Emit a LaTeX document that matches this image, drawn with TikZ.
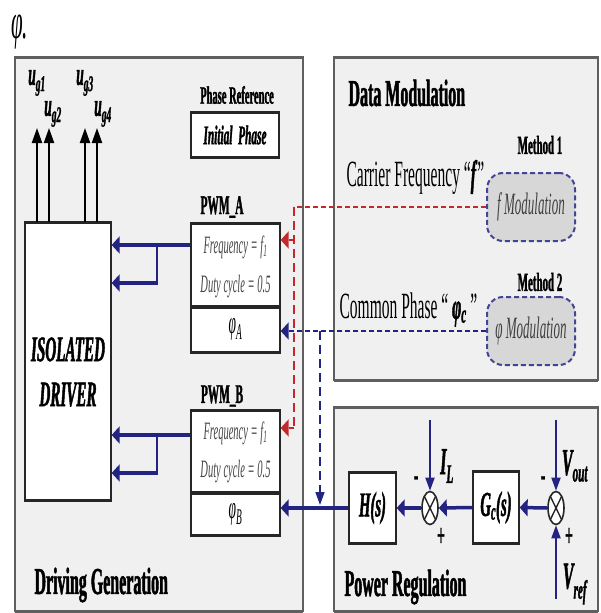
\documentclass[tikz,border=0pt]{standalone}
\usepackage{fontspec}
\setmainfont{Liberation Serif}[FakeStretch=0.42, BoldFeatures={FakeBold=1.2}, BoldItalicFeatures={FakeBold=1.2}]
\usetikzlibrary{arrows.meta,shapes.geometric}
\definecolor{panelfill}{RGB}{240,240,240}
\definecolor{panelline}{RGB}{95,95,95}
\definecolor{navy}{RGB}{35,35,130}
\definecolor{dred}{RGB}{195,40,45}
\definecolor{modfill}{RGB}{215,215,215}
\definecolor{greytext}{RGB}{70,70,70}
\newcommand\fsz[1]{\fontsize{#1}{#1}\selectfont}
\tikzset{
 panel/.style={draw=panelline, line width=1.5pt, fill=panelfill},
 pedge/.style={draw=panelline, line width=3pt},
 box/.style={draw=black!85, line width=1.3pt, fill=white, inner sep=0pt},
 edgeline/.style={draw=black!85, line width=3.2pt},
 hb/.style={draw=navy, line width=3.5pt, -{Triangle[length=8pt,width=17pt]}},
 vbl/.style={draw=navy, line width=1.8pt},
 vb/.style={draw=navy, line width=1.8pt, -{Triangle[length=13pt,width=9pt]}},
 vk/.style={draw=black, line width=2pt, -{Triangle[length=15pt,width=10pt]}},
 rdh/.style={draw=dred, line width=2.8pt, dash pattern=on 5pt off 3pt},
 rdv/.style={draw=dred, line width=1.5pt, dash pattern=on 9pt off 5pt},
 ndh/.style={draw=navy, line width=2.8pt, dash pattern=on 5pt off 3pt},
 ndv/.style={draw=navy, line width=1.5pt, dash pattern=on 9pt off 5pt},
 hhead/.style={-{Triangle[length=8pt,width=17pt]}},
 vhead/.style={-{Triangle[length=13pt,width=9pt]}},
 modbox/.style={draw=navy!85, line width=2pt, dash pattern=on 5pt off 3pt, fill=modfill, rounded corners=16pt, minimum width=88pt, minimum height=68pt, inner sep=0pt, text=black!75, font=\itshape\fsz{31}},
 junc/.style={ellipse, draw=black!85, line width=1.6pt, fill=white, minimum width=16pt, minimum height=33pt, inner sep=0pt},
 title/.style={anchor=west, font=\bfseries\fsz{38}},
 ptext/.style={font=\itshape\fsz{25}, text=greytext},
 bi/.style={font=\bfseries\itshape\fsz{32}, inner sep=0pt},
 sign/.style={font=\bfseries\fsz{32}},
}
\begin{document}
\begin{tikzpicture}[x=1pt,y=-1pt]
\useasboundingbox (0,0) rectangle (601,613);
\fill[white] (0,0) rectangle (601,613);

% panels
\draw[panel] (15,57) rectangle (303,611);
\draw[panel] (334,57) rectangle (598,380);
\draw[panel] (334,407) rectangle (598,611);
\foreach \a/\b/\y in {15/303/57,15/303/611,334/598/57,334/598/380,334/598/407,334/598/611}
  \draw[pedge] (\a,\y) -- (\b,\y);

\node[anchor=west, inner sep=0pt, font=\itshape\fsz{50}] (phitop) at (11,32) {φ.};

% titles
\node[title] (tDM) at (345,93) {Data Modulation};
\node[title] (tPR) at (341,587) {Power Regulation};
\node[title] (tDG) at (31,585) {Driving Generation};

% isolated driver
\node[box, minimum width=86pt, minimum height=277pt] (drv) at (68,361.5) {};
\draw[edgeline] (drv.north west) -- (drv.north east) (drv.south west) -- (drv.south east);
\node[align=center, font=\bfseries\itshape\fontsize{36}{45}\selectfont] (drvtxt) at (68,372) {ISOLATED\\DRIVER};

% gate outputs
\coordinate (g1) at (37,128);
\coordinate (g2) at (49,128);
\coordinate (g3) at (85,128);
\coordinate (g4) at (97,128);
\foreach \g in {g1,g2,g3,g4} \draw[vk] (drv.north -| \g) -- (\g);
\node[bi] (lg1) at (37,83) {u\textsubscript{g1}};
\node[bi] (lg2) at (53,114) {u\textsubscript{g2}};
\node[bi] (lg3) at (85,83) {u\textsubscript{g3}};
\node[bi] (lg4) at (103,114) {u\textsubscript{g4}};

% phase reference
\node[font=\bfseries\fsz{25}] (phref) at (237,95) {Phase Reference};
\node[box, minimum width=88pt, minimum height=44pt, font=\bfseries\itshape\fsz{27}] (init) at (235,135) {Initial\ \ Phase};
\draw[edgeline] (init.north west) -- (init.north east) (init.south west) -- (init.south east);

% PWM A
\node[font=\bfseries\fsz{27}] (lblA) at (222,207) {PWM\_A};
\node[box, minimum width=89pt, minimum height=128pt] (pwmA) at (235.5,288) {};
\draw[edgeline] (pwmA.north west) -- (pwmA.north east) (pwmA.south west) -- (pwmA.south east);
\draw[edgeline] (pwmA.west |- 0,307) -- (pwmA.east |- 0,307);
\node[ptext] (fA) at (235.5,247) {Frequency = f\textsubscript{1}};
\node[ptext] (dA) at (235.5,287) {Duty cycle = 0.5};
\node[font=\itshape\fsz{32}] (phA) at (235.5,329) {φ\textsubscript{A}};

% PWM B
\node[font=\bfseries\fsz{27}] (lblB) at (222,396) {PWM\_B};
\node[box, minimum width=89pt, minimum height=124pt] (pwmB) at (235.5,473) {};
\draw[edgeline] (pwmB.north west) -- (pwmB.north east) (pwmB.south west) -- (pwmB.south east);
\draw[edgeline] (pwmB.west |- 0,493) -- (pwmB.east |- 0,493);
\node[ptext] (fB) at (235.5,433) {Frequency = f\textsubscript{1}};
\node[ptext] (dB) at (235.5,472) {Duty cycle = 0.5};
\node[font=\itshape\fsz{32}] (phB) at (235.5,514) {φ\textsubscript{B}};

% PWM to driver
\coordinate (bA) at (157,245);
\coordinate (bA2) at (157,283);
\draw[hb] (pwmA.west |- bA) -- (drv.east |- bA);
\draw[vbl] (bA) -- (bA2);
\draw[hb] ([xshift=0.9pt]bA2) -- (drv.east |- bA2);
\coordinate (bB) at (157,435);
\coordinate (bB2) at (157,473);
\draw[hb] (pwmB.west |- bB) -- (drv.east |- bB);
\draw[vbl] (bB) -- (bB2);
\draw[hb] ([xshift=0.9pt]bB2) -- (drv.east |- bB2);

% data modulation
\node[anchor=west, font=\fsz{37}] (carr) at (343,177) {Carrier Frequency “\textit{\textbf{f}}”};
\node[anchor=west, font=\fsz{37}] (comm) at (336,310) {Common Phase “ \textit{\textbf{φ\textsubscript{c}}} ”};
\node[font=\bfseries\fsz{26}] (m1) at (540,145) {Method 1};
\node[font=\bfseries\fsz{26}] (m2) at (540,282) {Method 2};
\node[modbox] (fmod) at (531,207) {f Modulation};
\node[modbox] (pmod) at (531,331) {φ Modulation};

% red dashed frequency path
\coordinate (r1) at (294,207);
\coordinate (r2) at (294,428);
\coordinate (r3) at (294,240);
\draw[rdh] (fmod.west) -- (r1);
\draw[rdv] (r1) -- (r2);
\draw[rdh, hhead] (r3) -- (pwmA.east |- r3);
\draw[rdh, hhead] (r2) -- (pwmB.east |- r2);

% navy dashed phase path
\coordinate (n1) at (320,331);
\coordinate (n2) at (320,505);
\draw[ndh, hhead] (pmod.west) -- (pwmA.east |- pmod.west);
\draw[ndv, vhead] (n1) -- (n2);

% power regulation
\node[box, minimum width=47pt, minimum height=70pt, font=\bfseries\itshape\fsz{35}] (hs) at (372.5,508) {H(s)};
\draw[edgeline] (hs.north west) -- (hs.north east) (hs.south west) -- (hs.south east);
\node[box, minimum width=46pt, minimum height=71pt, font=\bfseries\itshape\fsz{35}] (gc) at (496,507.5) {G\textsubscript{c}(s)};
\draw[edgeline] (gc.north west) -- (gc.north east) (gc.south west) -- (gc.south east);
\node[junc] (j1) at (430,508) {};
\draw[black!85, line width=1.4pt] ([shift={(-5.7,-11.7)}]j1.center) -- ([shift={(5.7,11.7)}]j1.center)
  ([shift={(-5.7,11.7)}]j1.center) -- ([shift={(5.7,-11.7)}]j1.center);
\node[junc] (j2) at (556,508) {};
\draw[black!85, line width=1.4pt] ([shift={(-5.7,-11.7)}]j2.center) -- ([shift={(5.7,11.7)}]j2.center)
  ([shift={(-5.7,11.7)}]j2.center) -- ([shift={(5.7,-11.7)}]j2.center);

\draw[hb] (j2.west) -- (gc.east);
\draw[hb] (gc.west) -- (j1.east);
\draw[hb] (j1.west) -- (hs.east);
\draw[hb] (hs.west) -- (pwmB.east |- hs.west);

\coordinate (iL) at (430,420);
\coordinate (vo) at (556,420);
\coordinate (vr) at (556,599);
\draw[vb] (iL) -- (j1.north);
\draw[vb] (vo) -- (j2.north);
\draw[vb] (vr) -- (j2.south);

\node[font=\bfseries\itshape\fsz{38}] (liL) at (447,466) {I\textsubscript{L}};
\node[font=\bfseries\itshape\fsz{38}] (lvo) at (575,466) {V\textsubscript{out}};
\node[font=\bfseries\itshape\fsz{38}] (lvr) at (575,584) {V\textsubscript{ref}};
\node[sign] (s1m) at (416,481) {-};
\node[sign] (s1p) at (441,537) {+};
\node[sign] (s2m) at (543,481) {-};
\node[sign] (s2p) at (569,537) {+};
\end{tikzpicture}
\end{document}
